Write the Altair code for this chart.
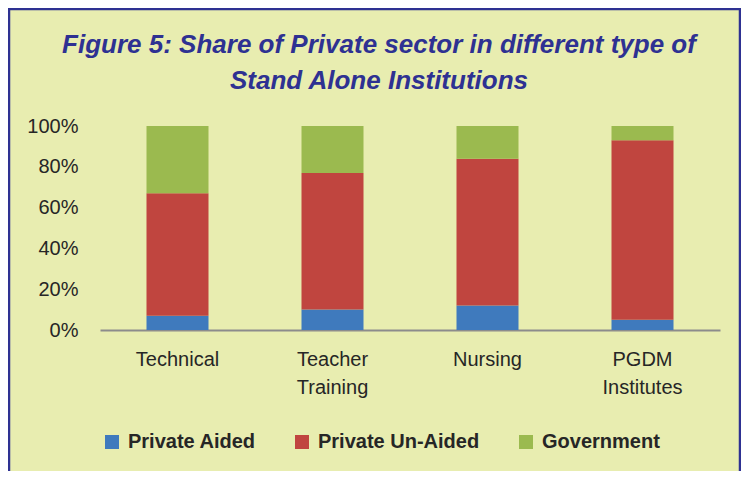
import altair as alt
import pandas as pd

categories = ["Technical", "Teacher Training", "Nursing", "PGDM Institutes"]
series = ["Private Aided", "Private Un-Aided", "Government"]
private_aided = [7, 10, 12, 5]
private_unaided = [60, 67, 72, 88]
government = [33, 23, 16, 7]
colors = ["#3f7abd", "#c0453f", "#9bba4f"]
y_ticks = [0, 20, 40, 60, 80, 100]

rows = []
for i, c in enumerate(categories):
    for j, (s, vals) in enumerate(zip(series, [private_aided, private_unaided, government])):
        rows.append({"category": c, "series": s, "value": vals[i], "order": j})
df = pd.DataFrame(rows)

W, H = 620, 204
PAD = {"left": 92, "top": 118, "right": 21, "bottom": 141}

font = "Liberation Sans"

bars = alt.Chart(df).mark_bar(stroke=None).encode(
    x=alt.X("category:N", sort=categories,
            scale=alt.Scale(paddingInner=0.6, paddingOuter=0.3),
            axis=alt.Axis(title=None, labelAngle=0, ticks=False, grid=False,
                          domainColor="#8c8c8c", domainWidth=2,
                          labelFont=font, labelFontSize=20, labelColor="#262626",
                          labelPadding=19, labelLineHeight=28,
                          labelExpr="split(datum.label, ' ')")),
    y=alt.Y("value:Q", stack="zero",
            scale=alt.Scale(domain=[0, 100], nice=False),
            axis=alt.Axis(title=None, values=y_ticks, grid=False, ticks=False, domain=False,
                          labelFont=font, labelFontSize=20, labelColor="#262626",
                          labelPadding=22, labelExpr="datum.value + '%'")),
    color=alt.Color("series:N", sort=series,
                    scale=alt.Scale(domain=series, range=colors),
                    legend=alt.Legend(title=None, orient="none", legendX=2, legendY=306,
                                      direction="horizontal", symbolType="square",
                                      symbolSize=196, symbolStrokeWidth=0,
                                      labelFont=font, labelFontSize=20, labelFontWeight="bold",
                                      labelColor="#262626", columnPadding=36, labelOffset=6,
                                      labelLimit=400)),
    order=alt.Order("order:Q"),
)

frame = alt.Chart(alt.Data(values=[{"a": 1}])).mark_rect(
    filled=False, stroke="#2e3192", strokeWidth=2.5
).encode(
    x=alt.value(-PAD["left"] + 1), x2=alt.value(W + PAD["right"] - 1),
    y=alt.value(-PAD["top"] + 1), y2=alt.value(H + PAD["bottom"] + 20),
)

chart = alt.layer(bars, frame).properties(
    width=W, height=H,
    autosize=alt.AutoSizeParams(type="none"),
    padding=PAD,
    background="#e8edb0",
    title=alt.TitleParams(
        text=["Figure 5: Share of Private sector in different type of", "Stand Alone Institutions"],
        font=font, fontSize=26, fontWeight="bold", fontStyle="italic", color="#2e3192",
        anchor="middle", dx=-31, offset=30, dy=116, lineHeight=36,
    ),
).configure_view(stroke=None)

chart.save("out.html", embed_options={"renderer": "svg", "actions": False})
